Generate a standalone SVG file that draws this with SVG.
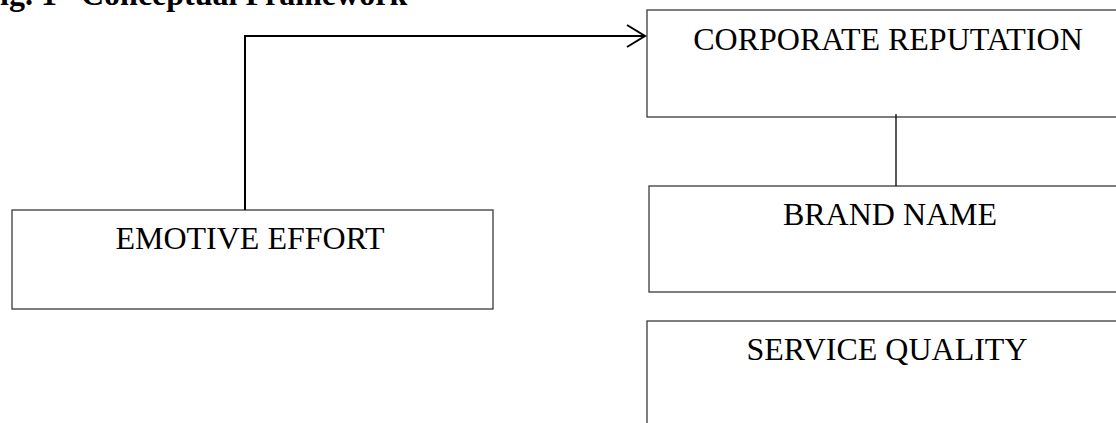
<svg xmlns="http://www.w3.org/2000/svg" width="1116" height="423" viewBox="0 0 1116 423">
<style>
.box{fill:#fff;stroke:#3a3a3a;stroke-width:1.3}
.lbl{font-family:"Liberation Serif","Times New Roman",serif;font-size:32px;fill:#000;text-anchor:middle}
.title{font-family:"Liberation Serif","Times New Roman",serif;font-size:32px;font-weight:bold;fill:#000}
.conn{fill:none;stroke:#000}
</style>
<rect width="1116" height="423" fill="#fff"/>
<text class="title" y="5"><tspan x="0">ig. 1</tspan><tspan x="81">Conceptual Framework</tspan></text>
<g id="corporate-reputation">
<rect class="box" x="647" y="10" width="490" height="107"/>
<text class="lbl" x="888" y="50">CORPORATE REPUTATION</text>
</g>
<g id="brand-name">
<rect class="box" x="649" y="186" width="490" height="106"/>
<text class="lbl" x="890" y="225">BRAND NAME</text>
</g>
<g id="service-quality">
<rect class="box" x="647" y="321" width="490" height="120"/>
<text class="lbl" x="887" y="360">SERVICE QUALITY</text>
</g>
<g id="emotive-effort">
<rect class="box" x="12" y="210" width="481" height="99"/>
<text class="lbl" x="250" y="249">EMOTIVE EFFORT</text>
</g>
<g id="connectors">
<polyline class="conn" stroke-width="2" points="245,210 245,36 645,36"/>
<polyline class="conn" stroke-width="2" points="627,25 645,36 627,47"/>
<line class="conn" stroke-width="1.3" x1="896" y1="114" x2="896" y2="186"/>
</g>
</svg>
